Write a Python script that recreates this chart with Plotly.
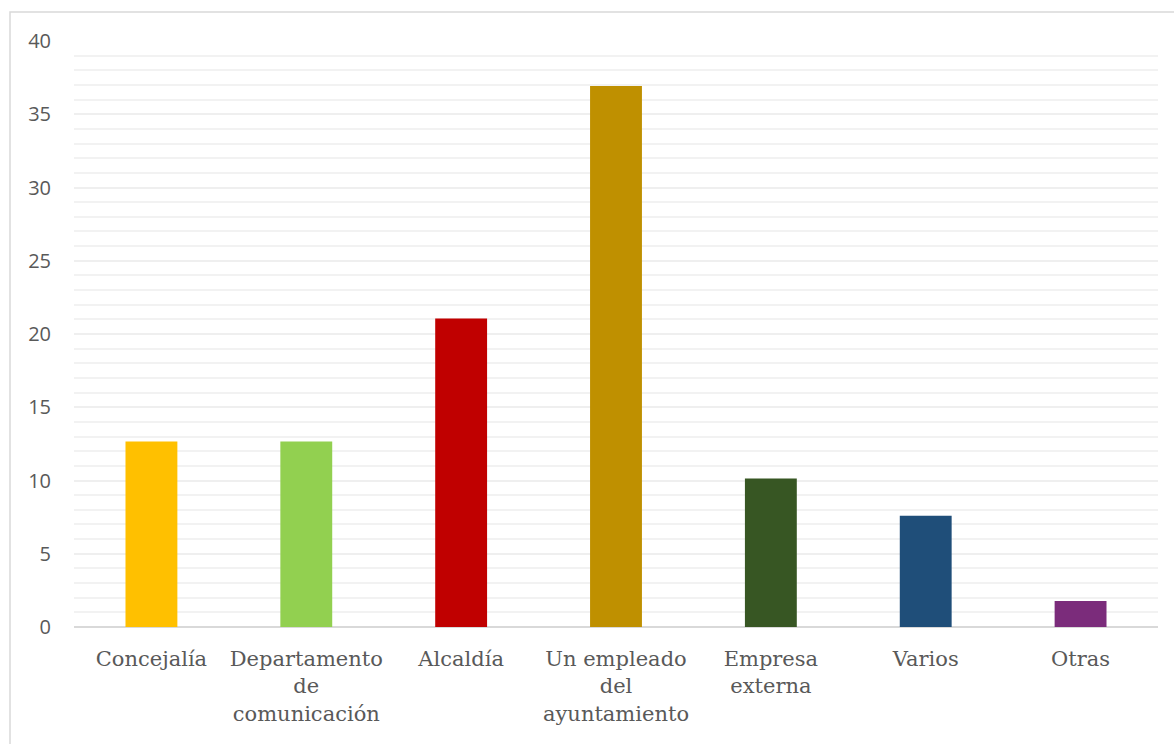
import plotly.graph_objects as go

categories = ["Concejalía", "Departamento<br>de<br>comunicación", "Alcaldía",
              "Un empleado<br>del<br>ayuntamiento", "Empresa<br>externa", "Varios", "Otras"]
values = [12.66, 12.66, 21.05, 36.92, 10.13, 7.59, 1.77]
colors = ["#FFC000", "#92D050", "#C00000", "#BF9000", "#375623", "#1F4E79", "#7B2C7B"]
y_ticks = [0, 5, 10, 15, 20, 25, 30, 35, 40]

fig = go.Figure(go.Bar(x=categories, y=values, marker=dict(color=colors, line=dict(width=0)),
                       hoverinfo="x+y"))

W, H = 1174, 744
fig.update_layout(
    width=W, height=H,
    margin=dict(l=74, r=16, t=41, b=117),
    paper_bgcolor="white", plot_bgcolor="white",
    bargap=0.665, showlegend=False,
    xaxis=dict(showgrid=False, showline=False, ticks="",
               tickfont=dict(family="DejaVu Serif", size=21, color="#595959"),
               ticklabelstandoff=17),
    yaxis=dict(range=[0, 40], tickvals=y_ticks, showgrid=True, gridcolor="#EFEFEF", gridwidth=1.5,
               minor=dict(dtick=1, showgrid=True, gridcolor="#F2F2F2", gridwidth=1.5),
               zeroline=True, zerolinecolor="#D9D9D9", zerolinewidth=1.5,
               showline=False, ticks="",
               tickfont=dict(family="Open Sans", size=20, color="#595959"),
               ticklabelstandoff=22),
    shapes=[dict(type="rect", xref="paper", yref="paper",
                 x0=(10 - 74) / (W - 74 - 16), x1=(1180 - 74) / (W - 74 - 16),
                 y0=-(117 + 10) / (H - 41 - 117), y1=1 + (41 - 12) / (H - 41 - 117),
                 line=dict(color="#D9D9D9", width=1.5), layer="below")],
)
fig.write_html("out.html")
